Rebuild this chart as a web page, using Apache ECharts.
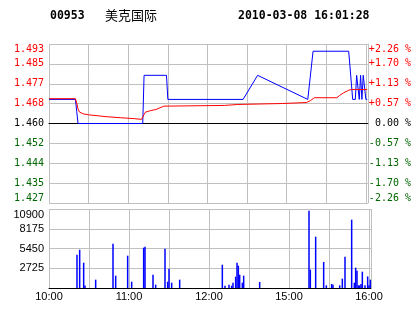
<!DOCTYPE html>
<html>
<head>
<meta charset="utf-8">
<script src="https://cdn.jsdelivr.net/npm/echarts@6/dist/echarts.min.js"></script>
<style>
html,body{margin:0;padding:0;background:#fff;}
#chart{width:414px;height:314px;}
</style>
</head>
<body>
<div id="chart"></div>
<script>
// ---- data ----
var stockCode = '00953';
var stockName = '美克国际';
var stampText = '2010-03-08 16:01:28';
var basePrice = 1.460;
var priceStep = 0.00825;
// minutes from 10:00 (lunch break removed), price
var priceMinutes = [0,20,21,22,71,72,89,90,147,158,196,200,227,230,232,233,234,235,236,237,238,239,240,241];
var priceValues  = [1.470,1.470,1.465,1.460,1.460,1.480,1.480,1.470,1.470,1.480,1.470,1.490,1.490,1.470,1.470,1.480,1.480,1.470,1.480,1.470,1.480,1.480,1.470,1.470];
var avgMinutes = [0,20,21,22,23,24,26,27,30,31,37,38,44,45,54,55,65,66,70,71,72,73,76,78,81,84,87,88,133,134,143,144,177,178,195,198,201,218,220,223,227,229,230,232,241];
var avgValues  = [1.4703,1.4703,1.4685,1.4660,1.4648,1.4640,1.4640,1.4636,1.4636,1.4632,1.4632,1.4628,1.4628,1.4624,1.4624,1.4620,1.4620,1.4617,1.4617,1.4614,1.4637,1.4647,1.4652,1.4655,1.4658,1.4665,1.4672,1.4675,1.4675,1.4679,1.4679,1.4683,1.4683,1.4687,1.4687,1.4695,1.4707,1.4707,1.4716,1.4727,1.4738,1.4741,1.4734,1.4741,1.4741];
var volMinutes = [21,23,26,27,35,48,50,59,62,71,72,78,80,87,89,90,92,98,130,132,135,137,138,140,141,142,143,145,146,158,195,196,200,206,208,212,213,218,220,222,227,229,230,231,232,233,234,235,237,239,240,241];
var volValues  = [4600,5280,3490,360,1150,6110,1700,4460,870,5560,5700,1830,460,5420,870,2660,730,1150,3210,320,460,320,730,1560,3490,3080,1830,730,1700,830,10660,2530,7080,3590,370,550,460,370,1290,4320,9430,730,2800,2390,370,370,550,2250,370,1600,370,1150];
var leftTickLabels  = ['1.427','1.435','1.444','1.452','1.460','1.468','1.477','1.485','1.493'];
var rightTickLabels = ['-2.26 %','-1.70 %','-1.13 %','-0.57 %',' 0.00 %','+0.57 %','+1.13 %','+1.70 %','+2.26 %'];
var volTickValues = [2725,5450,8175,10900];
var timeTickValues = [0,60,120,180,240];
var timeTickLabels = ['10:00','11:00','12:00','15:00','16:00'];

// ---- build ----
function toUnits(p){ return (p - basePrice) / priceStep; }
var priceData = priceMinutes.map(function(m,i){ return [m, toUnits(priceValues[i])]; });
var avgData = avgMinutes.map(function(m,i){ return [m, toUnits(avgValues[i])]; });
var volData = volMinutes.map(function(m,i){ return [m, volValues[i]]; });

var GRID = '#c0c0c0';
var RED = '#ff0000', GREEN = '#006600', BLACK = '#000000';
function signColor(v){ v = Number(v); return v > 0.001 ? RED : (v < -0.001 ? GREEN : BLACK); }
var splitColors = [GRID,GRID,GRID,GRID,BLACK,GRID,GRID,GRID,GRID];

var chart = echarts.init(document.getElementById('chart'), null, {renderer:'canvas'});
chart.setOption({
  animation:false,
  backgroundColor:'#ffffff',
  graphic:[
    {type:'text', left:50, top:10, style:{text:stockCode, fill:'#000', font:'bold 11.5px "DejaVu Sans Mono"'}},
    {type:'text', left:105, top:9, style:{text:stockName, fill:'#000', font:'13px "Noto Sans CJK SC"'}},
    {type:'text', left:238, top:10, style:{text:stampText, fill:'#000', font:'bold 11.5px "DejaVu Sans Mono"'}}
  ],
  grid:[
    {left:49, top:44, width:322, height:159},
    {left:49, top:209, width:322, height:79}
  ],
  xAxis:[
    {type:'value', gridIndex:0, min:0, max:241.5, interval:30,
     axisLine:{show:true, lineStyle:{color:BLACK, width:1}}, axisTick:{show:false}, axisLabel:{show:false},
     splitLine:{show:true, lineStyle:{color:GRID, width:1}}},
    {type:'value', gridIndex:1, min:0, max:241.5, interval:30,
     axisLine:{show:true, lineStyle:{color:BLACK, width:1}}, axisTick:{show:false},
     axisLabel:{show:true, margin:3, color:'#000', fontFamily:'Liberation Sans', fontSize:11,
       formatter:function(v){ var i = timeTickValues.indexOf(Math.round(v*1000)/1000); return i>=0 ? timeTickLabels[i] : ''; }},
     splitLine:{show:true, lineStyle:{color:GRID, width:1}}}
  ],
  yAxis:[
    {type:'value', gridIndex:0, min:-4, max:4, interval:1, position:'left',
     axisLine:{show:false}, axisTick:{show:false},
     axisLabel:{margin:5, fontFamily:'DejaVu Sans Mono', fontSize:10,
       verticalAlignMaxLabel:'top', verticalAlignMinLabel:'bottom',
       color:function(v){ return signColor(v); },
       formatter:function(v){ return leftTickLabels[Math.round(v)+4] || ''; }},
     splitLine:{show:true, lineStyle:{color:splitColors, width:1}}},
    {type:'value', gridIndex:0, min:-4, max:4, interval:1, position:'right',
     axisLine:{show:true, lineStyle:{color:GRID, width:1}}, axisTick:{show:false},
     axisLabel:{margin:1, fontFamily:'DejaVu Sans Mono', fontSize:10,
       verticalAlignMaxLabel:'top', verticalAlignMinLabel:'bottom',
       color:function(v){ return signColor(v); },
       formatter:function(v){ return rightTickLabels[Math.round(v)+4] || ''; }},
     splitLine:{show:false}},
    {type:'value', gridIndex:1, min:0, max:10900, interval:2725,
     axisLine:{show:false}, axisTick:{show:false},
     axisLabel:{margin:5, color:'#000', fontFamily:'Liberation Sans', fontSize:11,
       verticalAlignMaxLabel:'top',
       formatter:function(v){ return volTickValues.indexOf(Math.round(v))>=0 ? String(Math.round(v)) : ''; }},
     splitLine:{show:true, lineStyle:{color:GRID, width:1}}}
  ],
  series:[
    {type:'line', name:'price', xAxisIndex:0, yAxisIndex:0, data:priceData, showSymbol:false, symbol:'none',
     lineStyle:{color:'#0000ff', width:1}, itemStyle:{color:'#0000ff'}, z:3},
    {type:'line', name:'avg', xAxisIndex:0, yAxisIndex:0, data:avgData, showSymbol:false, symbol:'none',
     lineStyle:{color:'#ff0000', width:1}, itemStyle:{color:'#ff0000'}, z:4},
    {type:'bar', name:'volume', xAxisIndex:1, yAxisIndex:2, data:volData, barWidth:1.5,
     itemStyle:{color:'#0000ff'}, z:3}
  ]
});
</script>
</body>
</html>
